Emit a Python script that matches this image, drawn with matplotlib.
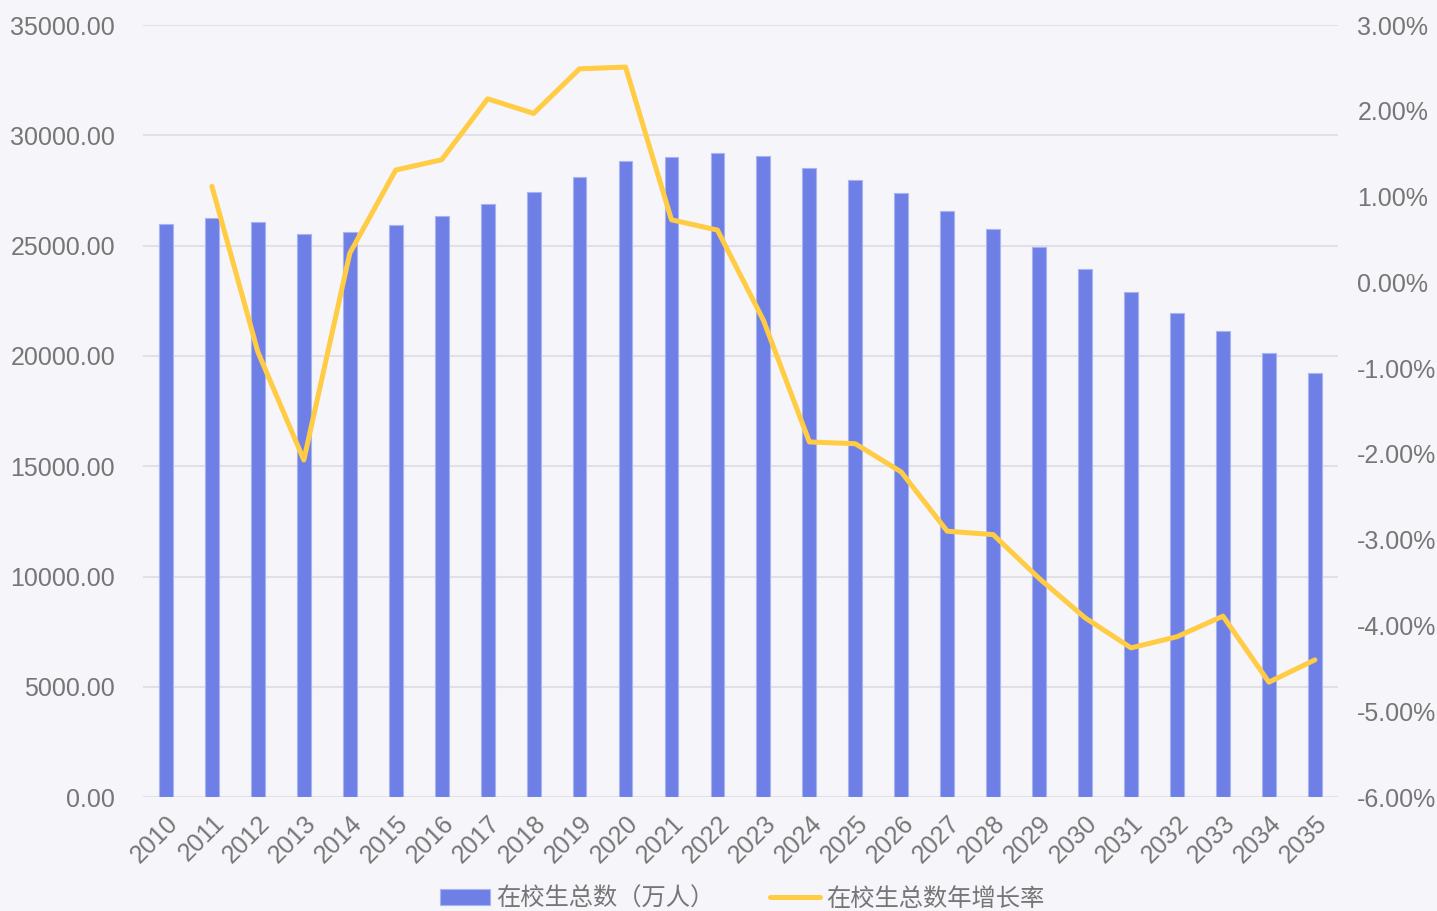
import matplotlib.pyplot as plt
from matplotlib.ticker import FuncFormatter

plt.rcParams['font.family'] = ['Liberation Sans', 'Noto Sans CJK SC', 'DejaVu Sans']

years = [str(y) for y in range(2010, 2036)]
students = [25970, 26250, 26070, 25520, 25610, 25930, 26340, 26880, 27430, 28100,
            28830, 29010, 29190, 29060, 28510, 27970, 27380, 26560, 25750, 24930,
            23930, 22890, 21940, 21120, 20130, 19220]
growth_years = years[1:]
growth = [1.12, -0.81, -2.07, 0.34, 1.31, 1.43, 2.14, 1.97, 2.49, 2.51,
          0.73, 0.61, -0.44, -1.86, -1.88, -2.21, -2.90, -2.94, -3.45, -3.91,
          -4.26, -4.13, -3.89, -4.66, -4.40]

bg = '#F5F5FA'
txt = '#767676'
bar_c = '#6E80E6'
line_c = '#FFCC44'

fig = plt.figure(figsize=(14.37, 9.11), dpi=100, facecolor=bg)
ax = fig.add_axes([0.0995, 0.125, 0.8315, 0.8475])
ax.set_facecolor(bg)

x = list(range(len(years)))
ax.bar(x, students, width=0.3, color=bar_c, edgecolor='#A9B3F2', linewidth=0.8,
       label='在校生总数（万人）', zorder=2)
ax.set_ylim(0, 35000)
ax.set_yticks(range(0, 35001, 5000))
ax.yaxis.set_major_formatter(FuncFormatter(lambda v, p: f'{v:.2f}'))
ax.grid(axis='y', color='#E0E0E6', linewidth=1.5, zorder=0)
ax.set_axisbelow(True)
ax.set_xlim(-0.5, len(years) - 0.5)
ax.set_xticks(x)
ax.set_xticklabels(years, rotation=45, ha='right', rotation_mode='anchor')
for s in ax.spines.values():
    s.set_visible(False)
ax.tick_params(axis='both', length=0, labelsize=18, colors=txt)
ax.tick_params(axis='y', pad=20)
ax.tick_params(axis='x', pad=10)

ax2 = ax.twinx()
gx = [years.index(y) for y in growth_years]
ax2.plot(gx, growth, color=line_c, linewidth=3.6, solid_capstyle='round',
         label='在校生总数年增长率', zorder=3)
ax2.set_ylim(-6, 3)
ax2.set_yticks(range(-6, 4))
ax2.yaxis.set_major_formatter(FuncFormatter(lambda v, p: f'{v:.2f}%'))
for s in ax2.spines.values():
    s.set_visible(False)
ax2.tick_params(axis='y', length=0, labelsize=18, colors=txt, pad=14)

h1, l1 = ax.get_legend_handles_labels()
h2, l2 = ax2.get_legend_handles_labels()
fig.legend(h1 + h2, l1 + l2, loc='center', bbox_to_anchor=(742 / 1437, 1 - 899 / 911),
           ncol=2, frameon=False, fontsize=17.5, labelcolor=txt, handlelength=2.05,
           handleheight=0.6, columnspacing=2.3, handletextpad=0.25)

fig.savefig('out.png', dpi=100, facecolor=bg)
